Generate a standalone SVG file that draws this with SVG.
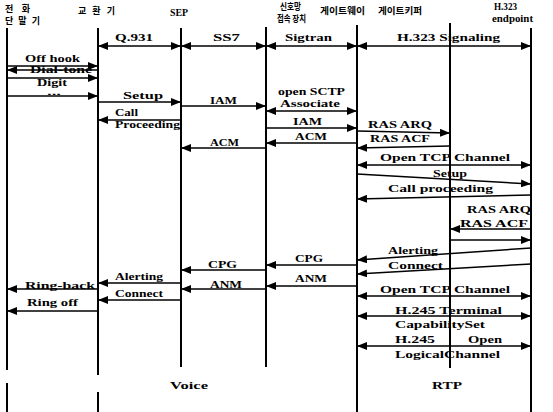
<svg xmlns="http://www.w3.org/2000/svg" width="553" height="412" viewBox="0 0 553 412">
<defs>
<marker id="ah" viewBox="0 0 10 8" refX="10" refY="4" markerWidth="10" markerHeight="8" markerUnits="userSpaceOnUse" orient="auto-start-reverse"><path d="M0,0 L10,4 L0,8 z" fill="#000"/></marker>
<style>
.ll{stroke:#000;stroke-width:2;fill:none}
.m{stroke:#000;stroke-width:1.5;fill:none;marker-end:url(#ah)}
.d{stroke:#000;stroke-width:1.5;fill:none;marker-start:url(#ah);marker-end:url(#ah)}
.t{font-family:"Liberation Serif",serif;font-weight:bold;font-size:11px;fill:#000}
.s{font-size:10px}
.k{font-family:"Noto Sans CJK KR",sans-serif;font-weight:bold;font-size:9px;fill:#000}
.h{font-family:"Liberation Serif",serif;font-weight:bold;font-size:10px;fill:#000}
</style>
</defs>
<rect width="553" height="412" fill="#fff"/>
<g id="n-phone"><text class="k" x="5" y="12" textLength="25" lengthAdjust="spacing">전화</text><text class="k" x="5" y="24" textLength="35" lengthAdjust="spacing">단말기</text><path class="ll" d="M7,28 V370 M7,383 V412"/></g>
<g id="n-exchange"><text class="k" x="78" y="14" textLength="37" lengthAdjust="spacing">교환기</text><path class="ll" d="M98,28 V375 M98,392 V412"/></g>
<g id="n-sep"><text class="h" x="170" y="16" textLength="18" lengthAdjust="spacingAndGlyphs">SEP</text><path class="ll" d="M181,28 V367"/></g>
<g id="n-access"><text class="k" x="280" y="10" textLength="21" lengthAdjust="spacingAndGlyphs">신호망</text><text class="k" x="277" y="22" textLength="29" lengthAdjust="spacingAndGlyphs">접속 장치</text><path class="ll" d="M266,27 V367"/></g>
<g id="n-gateway"><text class="k" x="320" y="14" textLength="45" lengthAdjust="spacingAndGlyphs">게이트웨이</text><path class="ll" d="M357,25 V412"/></g>
<g id="n-gatekeeper"><text class="k" x="378" y="14" textLength="44" lengthAdjust="spacingAndGlyphs">게이트키퍼</text><path class="ll" d="M450,23 V368"/></g>
<g id="n-endpoint"><text class="h" x="494" y="10" textLength="23" lengthAdjust="spacingAndGlyphs">H.323</text><text class="h" x="492" y="22" textLength="41" lengthAdjust="spacingAndGlyphs">endpoint</text><path class="ll" d="M531,28 V412"/></g>
<g id="connectors">
<path class="d" d="M98,46 H181"/><path class="d" d="M181,46 H266"/><path class="d" d="M266,46 H357"/><path class="d" d="M357,46 H531"/>
<path class="m" d="M7,66 H98"/><path class="m" d="M98,70 H7"/><path class="m" d="M7,78 H98"/><path class="m" d="M7,96 H98"/>
<path class="m" d="M98,102 H181"/><path class="m" d="M181,106 H266"/><path class="d" d="M266,111 H357"/>
<path class="m" d="M181,120 H98"/><path class="m" d="M266,128 H357"/><path class="m" d="M357,131 L450,133"/>
<path class="m" d="M357,143 H266"/><path class="m" d="M450,146 L357,148"/><path class="m" d="M266,148 H181"/>
<path class="d" d="M357,165 H531"/><path class="m" d="M357,174 L531,184"/><path class="m" d="M531,195 L357,199"/>
<path class="m" d="M531,229 H450"/><path class="m" d="M450,240 H531"/>
<path class="m" d="M531,248 L357,260"/><path class="m" d="M531,264 L357,274"/>
<path class="m" d="M357,265 H266"/><path class="m" d="M266,270 H181"/><path class="m" d="M357,286 H266"/><path class="m" d="M266,289 H181"/>
<path class="m" d="M181,283 H98"/><path class="m" d="M98,289 H7"/><path class="m" d="M181,300 H98"/><path class="m" d="M98,311 H7"/>
<path class="d" d="M357,296 H531"/><path class="d" d="M357,316 H531"/><path class="d" d="M357,346 H531"/>
</g>
<g id="labels">
<text class="t" x="115" y="41" textLength="38" lengthAdjust="spacingAndGlyphs">Q.931</text>
<text class="t" x="213" y="41" textLength="27" lengthAdjust="spacingAndGlyphs">SS7</text>
<text class="t" x="285" y="41" textLength="47" lengthAdjust="spacingAndGlyphs">Sigtran</text>
<text class="t" x="397" y="41" textLength="103" lengthAdjust="spacingAndGlyphs">H.323 Signaling</text>
<text class="t s" x="25" y="62" textLength="55" lengthAdjust="spacingAndGlyphs">Off hook</text>
<text class="t s" x="30" y="73" textLength="62" lengthAdjust="spacingAndGlyphs">Dial-tone</text>
<text class="t s" x="37" y="86" textLength="30" lengthAdjust="spacingAndGlyphs">Digit</text>
<text class="t" style="font-size:8px" x="47" y="95" textLength="14" lengthAdjust="spacingAndGlyphs">...</text>
<text class="t" x="123" y="99" textLength="40" lengthAdjust="spacingAndGlyphs">Setup</text>
<text class="t" x="210" y="104" textLength="27" lengthAdjust="spacingAndGlyphs">IAM</text>
<text class="t" x="278" y="95" textLength="67" lengthAdjust="spacingAndGlyphs">open SCTP</text>
<text class="t" x="280" y="107" textLength="60" lengthAdjust="spacingAndGlyphs">Associate</text>
<text class="t s" x="115" y="116" textLength="23" lengthAdjust="spacingAndGlyphs">Call</text>
<text class="t s" x="115" y="128" textLength="65" lengthAdjust="spacingAndGlyphs">Proceeding</text>
<text class="t" x="293" y="125" textLength="29" lengthAdjust="spacingAndGlyphs">IAM</text>
<text class="t" x="368" y="128" textLength="64" lengthAdjust="spacingAndGlyphs">RAS ARQ</text>
<text class="t" x="295" y="140" textLength="32" lengthAdjust="spacingAndGlyphs">ACM</text>
<text class="t" x="370" y="142" textLength="60" lengthAdjust="spacingAndGlyphs">RAS ACF</text>
<text class="t" x="210" y="146" textLength="29" lengthAdjust="spacingAndGlyphs">ACM</text>
<text class="t" x="380" y="161" textLength="130" lengthAdjust="spacingAndGlyphs">Open TCP Channel</text>
<text class="t" x="433" y="177" textLength="34" lengthAdjust="spacingAndGlyphs">Setup</text>
<text class="t" x="388" y="192" textLength="105" lengthAdjust="spacingAndGlyphs">Call proceeding</text>
<text class="t" x="467" y="213" textLength="64" lengthAdjust="spacingAndGlyphs">RAS ARQ</text>
<text class="t" x="460" y="227" textLength="68" lengthAdjust="spacingAndGlyphs">RAS ACF</text>
<text class="t" x="388" y="254" textLength="50" lengthAdjust="spacingAndGlyphs">Alerting</text>
<text class="t" x="388" y="269" textLength="55" lengthAdjust="spacingAndGlyphs">Connect</text>
<text class="t" x="295" y="262" textLength="28" lengthAdjust="spacingAndGlyphs">CPG</text>
<text class="t" x="208" y="268" textLength="29" lengthAdjust="spacingAndGlyphs">CPG</text>
<text class="t" x="295" y="282" textLength="32" lengthAdjust="spacingAndGlyphs">ANM</text>
<text class="t" x="210" y="288" textLength="32" lengthAdjust="spacingAndGlyphs">ANM</text>
<text class="t" x="115" y="280" textLength="48" lengthAdjust="spacingAndGlyphs">Alerting</text>
<text class="t" x="25" y="289" textLength="70" lengthAdjust="spacingAndGlyphs">Ring-back</text>
<text class="t" x="115" y="297" textLength="48" lengthAdjust="spacingAndGlyphs">Connect</text>
<text class="t" x="27" y="306" textLength="51" lengthAdjust="spacingAndGlyphs">Ring off</text>
<text class="t" x="380" y="293" textLength="130" lengthAdjust="spacingAndGlyphs">Open TCP Channel</text>
<text class="t" x="395" y="314" textLength="107" lengthAdjust="spacingAndGlyphs">H.245 Terminal</text>
<text class="t" x="395" y="328" textLength="90" lengthAdjust="spacingAndGlyphs">CapabilitySet</text>
<text class="t" x="395" y="343" textLength="40" lengthAdjust="spacingAndGlyphs">H.245</text>
<text class="t" x="468" y="343" textLength="34" lengthAdjust="spacingAndGlyphs">Open</text>
<text class="t" x="395" y="358" textLength="105" lengthAdjust="spacingAndGlyphs">LogicalChannel</text>
<text class="t" x="170" y="389" textLength="38" lengthAdjust="spacingAndGlyphs">Voice</text>
<text class="t" x="432" y="389" textLength="30" lengthAdjust="spacingAndGlyphs">RTP</text>
</g>
</svg>
